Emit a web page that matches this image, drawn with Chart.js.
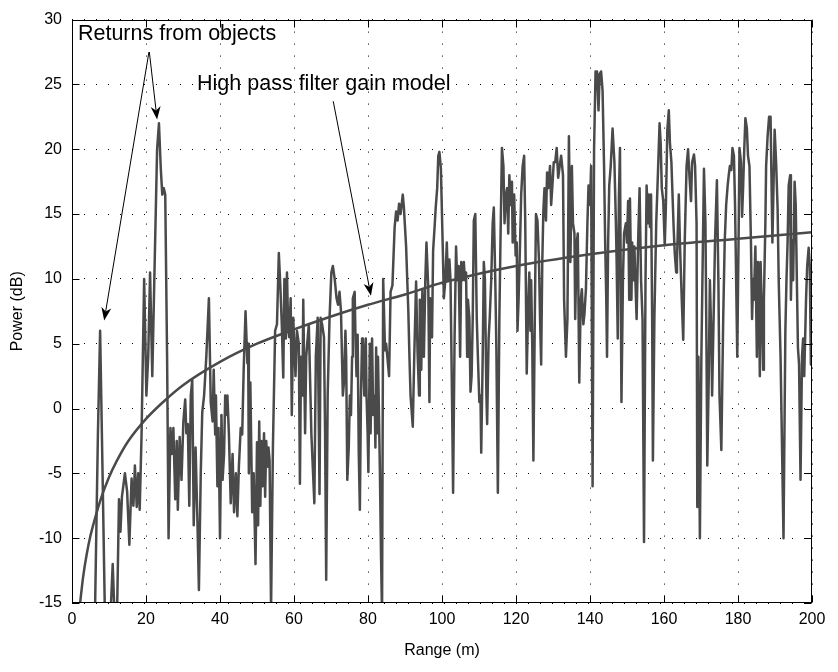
<!DOCTYPE html>
<html lang="en">
<head>
    <meta charset="UTF-8">
    <title>Power vs Range with High Pass Filter Gain Model</title>
    <script src="https://cdn.jsdelivr.net/npm/chart.js"></script>
    <style>
        html, body { margin: 0; padding: 0; background: #fff; }
    </style>
</head>
<body>
    <canvas id="powerChart" width="838" height="672"></canvas>

    <script>
        const rangeM = [
            0.5, 2.0, 3.5, 5.0, 6.2, 7.0, 7.6, 8.2, 8.9, 9.6,
            10.4, 11.0, 11.5, 12.2, 12.7, 13.1, 13.5, 14.3, 14.9, 15.5,
            16.1, 16.6, 17.0, 17.5, 17.9, 18.3, 18.8, 19.5, 20.1, 20.6,
            21.1, 21.7, 22.4, 23.0, 23.5, 24.0, 24.4, 24.8, 25.2, 25.7,
            26.1, 26.6, 27.0, 27.4, 27.9, 28.3, 28.6, 29.1, 29.6, 30.1,
            30.6, 30.9, 31.3, 31.7, 32.1, 32.5, 32.9, 33.4, 33.9, 34.3,
            34.8, 35.2, 35.7, 36.3, 37.0, 37.5, 38.0, 38.3, 38.7, 38.9,
            39.3, 39.6, 40.0, 40.4, 40.7, 41.1, 41.4, 41.7, 42.0, 42.4,
            42.9, 43.4, 43.8, 44.3, 44.7, 45.1, 45.6, 46.0, 46.4, 46.9,
            47.4, 47.6, 47.8, 48.2, 48.7, 49.1, 49.6, 50.0, 50.3, 50.6,
            50.9, 51.2, 51.5, 51.9, 52.2, 52.5, 52.8, 53.1, 53.4, 53.8,
            54.3, 54.9, 55.4, 55.9, 56.3, 56.7, 57.1, 57.4, 57.8, 58.1,
            58.4, 58.7, 59.1, 59.4, 59.8, 60.4, 60.8, 61.3, 61.6, 61.9,
            62.3, 62.5, 63.0, 63.3, 64.0, 64.7, 65.5, 65.9, 66.4, 66.9,
            67.2, 67.6, 68.1, 68.4, 68.7, 69.1, 69.6, 70.1, 70.5, 71.0,
            71.5, 71.9, 72.3, 72.7, 73.2, 73.5, 73.9, 74.1, 74.4, 74.8,
            75.1, 75.4, 75.7, 75.9, 76.4, 76.6, 76.9, 77.2, 77.5, 77.8,
            78.1, 78.4, 78.6, 79.0, 79.1, 79.4, 79.6, 79.9, 80.1, 80.5,
            80.7, 81.1, 81.4, 81.8, 82.0, 82.2, 82.5, 82.7, 83.2, 83.5,
            83.8, 84.1, 84.6, 84.9, 85.7, 86.1, 86.6, 87.2, 87.6, 88.0,
            88.4, 88.8, 89.4, 89.7, 90.3, 90.9, 91.2, 91.5, 92.1, 92.5,
            93.0, 93.4, 93.8, 94.0, 94.4, 94.7, 95.1, 95.5, 95.8, 96.3,
            96.6, 96.8, 97.3, 97.6, 98.0, 98.3, 98.7, 99.0, 99.3, 99.7,
            100.2, 100.5, 100.9, 101.3, 101.6, 102.0, 102.3, 102.7, 103.0, 103.4,
            103.8, 104.1, 104.5, 104.9, 105.2, 105.6, 105.9, 106.2, 106.5, 106.8,
            107.0, 107.4, 107.7, 108.0, 108.3, 108.6, 109.0, 109.4, 109.7, 110.1,
            110.4, 110.6, 111.0, 111.3, 111.6, 112.0, 112.2, 112.6, 112.9, 113.3,
            113.7, 114.0, 114.4, 114.7, 115.1, 115.5, 115.8, 116.2, 116.6, 116.9,
            117.3, 117.6, 117.9, 118.2, 118.6, 118.9, 119.1, 119.5, 119.9, 120.2,
            120.4, 120.7, 121.1, 121.4, 121.8, 122.2, 122.5, 122.9, 123.3, 123.6,
            123.9, 124.1, 124.4, 124.7, 125.1, 125.4, 125.8, 126.2, 126.5, 126.8,
            127.1, 127.4, 127.7, 128.1, 128.4, 128.7, 129.2, 129.5, 129.9, 130.2,
            130.6, 131.0, 131.4, 131.8, 132.2, 132.7, 133.0, 133.5, 133.9, 134.3,
            134.7, 135.1, 135.4, 135.8, 136.0, 136.4, 136.7, 137.1, 137.5, 137.8,
            138.2, 138.5, 138.9, 139.3, 139.6, 140.0, 140.3, 140.7, 141.1, 141.5,
            141.9, 142.3, 142.6, 143.0, 143.4, 143.8, 144.1, 144.4, 144.6, 144.9,
            145.2, 145.6, 146.1, 146.6, 147.0, 147.2, 147.5, 147.8, 148.1, 148.5,
            148.9, 149.2, 149.7, 150.0, 150.3, 150.6, 150.8, 151.2, 151.4, 151.7,
            152.0, 152.2, 152.6, 153.0, 153.4, 153.8, 154.2, 154.6, 155.0, 155.3,
            155.7, 155.9, 156.2, 156.5, 156.8, 157.0, 157.4, 157.9, 158.4, 158.8,
            159.1, 159.4, 159.8, 160.2, 160.5, 160.9, 161.3, 161.6, 162.0, 162.6,
            162.9, 163.3, 163.5, 164.0, 164.3, 164.8, 165.2, 165.6, 166.1, 166.5,
            166.9, 167.3, 167.6, 168.1, 168.4, 168.8, 169.0, 169.3, 169.7, 170.1,
            170.8, 171.2, 171.5, 171.7, 172.1, 172.4, 172.8, 173.0, 173.4, 173.8,
            174.3, 174.7, 175.0, 175.5, 176.0, 176.4, 176.8, 177.2, 177.5, 177.8,
            178.2, 178.5, 178.9, 179.2, 179.5, 179.8, 180.2, 180.4, 180.8, 181.1,
            181.4, 181.7, 182.0, 182.4, 182.7, 183.1, 183.5, 183.8, 184.1, 184.3,
            184.5, 184.7, 185.1, 185.4, 185.6, 185.9, 186.1, 186.5, 186.8, 187.0,
            187.4, 187.6, 188.0, 188.4, 188.8, 189.3, 189.9, 190.3, 190.7, 191.0,
            191.5, 192.3, 192.8, 193.1, 193.4, 193.7, 194.1, 194.3, 194.6, 194.9,
            195.3, 195.6, 195.9, 196.2, 196.5, 196.9, 197.3, 197.6, 197.9, 198.4,
            198.7, 199.1, 199.4, 199.7, 200.0
        ];
        const powerDb = [
            -18, -17, -19, -17, -16, -2, 6, -4, -16, -18,
            -16, -12, -16, -15.5, -7, -9.5, -6.8, -5, -6.4, -10.5,
            -5.4, -7.5, -4.4, -7.6, -5, -7.8, -2, 10, 1, 4,
            10.5, 2.5, 12, 20, 22, 18.5, 16.5, 17, 16.5, 4,
            -10, -1.5, -3.5, -1.5, -7, -2.5, -7.8, -2.2, -5.5, -1,
            0.7, -1.9, -1.2, -7.5, 1, 2.2, -9, -3, -8.7, -14,
            -5, -0.3, 1, 4, 8.5, 0.5, -1, 3, -2, 1,
            -6, -1.5, -10, -0.5, -5.5, -3.5, 1, -0.5, 1, -1.9,
            -7.3, -3.5, -8, -5, -8.3, -4.5, -1.5, -2, 3, 7.5,
            3.5, 5, -5, 2, -8, -5, -12, -2.6, -9, -1,
            -7.5, -2.5, -6, -1.9, -6.8, -2.5, -4.5, -3, -4, -15.5,
            -3, 6, 6.5, 12, 9.5, 6.5, 2.4, 10, 5.4, 10.5,
            6.5, 5.5, 8.5, -0.5, 7, 2.5, 6, 5, -5.8, 4,
            1, 8.4, -1.9, 4, 6.5, -2, -7.3, 4, 7, -6.6,
            7, 6.5, 5.5, -1.9, -13.2, 1, 6.9, 10.5, 11, 10,
            8.5, 8, 9, 7.5, 1, 2, 6, 4, -5.5, -3,
            1, -0.5, 4, 8.5, 9, 5.7, 2.5, 5.7, -3.4, -7.8,
            1, 5.4, 5, 1, 4, 5.4, 1, -1.9, -4.9, 5,
            -1.9, 5.4, -0.5, 1, -3, 4.7, -1.9, 4, -4.5, -11,
            -16, 10, 4.5, 5, 2.5, 9, 9.5, 14, 15.2, 14.5,
            15.8, 15, 16.5, 15.5, 12.5, 7.5, 4, 1, -1.4, 4,
            9.8, 4.3, 1, 8.4, 3, 9.2, 4, 10, 12.8, 9.2,
            0.5, 8.5, 5.5, 12.2, 14, 15.5, 17, 19.5, 19.8, 18.5,
            12.5, 8.5, 9.9, 12.8, 9.9, 11.5, 9.9, 1, -6.5, 5.5,
            12.5, 9.9, 11, 4, 11.3, 9.9, 11.3, 9.9, 10.5, 4,
            8.4, 7, 1.3, 2.5, 6.9, 14.5, 15, 6.9, 4, 0.5,
            1, -3.4, 4, 11.3, 9.9, 1, -1.2, 5.4, 7, 9.9,
            14.3, 15.5, 9.9, 4.5, -6.5, 6.9, 12.8, 20.1, 18.7, 14.3,
            16.5, 17, 13.5, 18, 15.7, 17.5, 12.8, 16.5, 11.8, 12.8,
            6, 8.4, 12.8, 16.5, 18.7, 19.5, 14.3, 2.7, 8, 10.5,
            6, 9.9, 4.7, -4, 7.5, 15, 14.5, 11.5, 6.9, 3.4,
            11.3, 15.3, 17, 14.5, 18.2, 17, 18.7, 15.7, 17.5, 19,
            19, 20.1, 17.8, 18.7, 19.5, 18, 8.4, 4, 6.9, 21,
            11.3, 18.7, 14.3, 13.5, 6.9, 12.8, 13.5, 2, 8.4, 9.2,
            6.5, 7.3, 9.2, 14.3, 17.2, 15.7, 18.7, -6, 20, 26,
            26, 23, 25.8, 26, 24.5, 18.7, 12.8, 8.4, 4, 12.8,
            17.2, 18.7, 21.6, 19, 14.3, 11.3, 5.4, 16.2, 20.1, 0.5,
            9.9, 13.5, 14.3, 12.8, 16, 8.4, 16.2, 8.4, 12.8, 9.9,
            12.5, 10.5, 6.9, 12.8, 17, 9.9, 6.9, -10.3, 9.9, 17.2,
            14.3, 16.5, 14, 16.5, 6.9, -4, 6.9, 14.3, 18.5, 22,
            20.5, 17, 16, 12.6, 15.5, 21.5, 23, 20.5, 19, 14,
            12, 10.5, 11.3, 16.5, 12.8, 8.4, 5.3, 12.8, 18.7, 20,
            17.8, 16, 19, 19.6, 18.7, 14.3, -7.6, 4, -10, 4,
            18.5, 14.3, 4, -4.4, 2.5, 9.9, 5.4, 1, 6.9, 13,
            17.6, 9.9, 1, -3.2, 6.9, 12.8, 15.7, 17.2, 18, 18.7,
            18.4, 20.1, 19.5, 15.7, 9.9, 4, 14.3, 20.1, 19, 14.8,
            17.2, 20.1, 22.4, 21.6, 19.5, 18.7, 12.8, 6.9, 10, 8.4,
            10.5, 12.5, 4, 11.3, 9.9, 2.5, 11.3, 6.9, 3, 8.4,
            14.3, 18.7, 21, 22.5, 22.5, 12.8, 21.5, 19, 15.5, 9.9,
            4, -10, 6, 9.9, 12.8, 17.2, 18, 8.4, 13, 9.9,
            17.5, 15.7, 10, 4.7, 3.4, -5.5, 4, 5.4, 2.5, 8.5,
            11, 12.4, 11, 3.4, 5
        ];

        // High pass filter gain model
        const modelRange = [2, 3, 4, 5, 6, 8, 10, 12, 15, 20, 25, 30, 40, 50, 60, 70, 80, 90, 100, 120, 140, 160, 180, 200];
        const modelGain = [-15.5, -13, -11.2, -9.8, -8.7, -6.8, -5.3, -4.1, -2.6, -0.8, 0.6, 1.8, 3.6, 5.0, 6.1, 7.1, 8.0, 8.8, 9.7, 11.0, 11.9, 12.6, 13.1, 13.6];

        // Text annotations and their arrows, in data units [x1, y1, x2, y2]
        const returnsLabel = { text: 'Returns from objects', x: 1.6, y: 28.9 };
        const returnsArrows = [[20.8, 27.5, 8.7, 6.8], [20.9, 27.5, 23.0, 22.3]];
        const filterLabel = { text: 'High pass filter gain model', x: 33.8, y: 25.0 };
        const filterArrows = [[70.6, 23.7, 80.8, 8.7]];

        const fontFamily = '"Liberation Sans", Arial, Helvetica, sans-serif';

        function drawArrow(ctx, x1, y1, x2, y2) {
            const ang = Math.atan2(y2 - y1, x2 - x1);
            const len = 13, half = 5;
            ctx.beginPath();
            ctx.moveTo(x1, y1);
            ctx.lineTo(x2 - Math.cos(ang) * len * 0.7, y2 - Math.sin(ang) * len * 0.7);
            ctx.stroke();
            ctx.save();
            ctx.translate(x2, y2);
            ctx.rotate(ang);
            ctx.beginPath();
            ctx.moveTo(0, 0);
            ctx.lineTo(-len, -half);
            ctx.lineTo(-len * 0.7, 0);
            ctx.lineTo(-len, half);
            ctx.closePath();
            ctx.fill();
            ctx.restore();
        }

        // Axes box with inward tick marks, like a Matlab figure
        const frame = {
            id: 'frame',
            afterDatasetsDraw(chart) {
                const { ctx, chartArea: a, scales: { x, y } } = chart;
                const left = Math.round(a.left) + 0.5, right = Math.round(a.right) - 0.5;
                const top = Math.round(a.top) + 0.5, bottom = Math.round(a.bottom) - 0.5;
                ctx.save();
                ctx.strokeStyle = '#000';
                ctx.lineWidth = 1;
                ctx.beginPath();
                x.ticks.forEach(t => {
                    const px = Math.round(x.getPixelForValue(t.value)) + 0.5;
                    ctx.moveTo(px, bottom); ctx.lineTo(px, bottom - 7);
                    ctx.moveTo(px, top); ctx.lineTo(px, top + 7);
                });
                y.ticks.forEach(t => {
                    const py = Math.round(y.getPixelForValue(t.value)) + 0.5;
                    ctx.moveTo(left, py); ctx.lineTo(left + 7, py);
                    ctx.moveTo(right, py); ctx.lineTo(right - 7, py);
                });
                ctx.stroke();
                ctx.strokeRect(left, top, right - left, bottom - top);
                ctx.restore();
            }
        };

        // Text labels with arrows pointing at the curves
        const notes = {
            id: 'notes',
            afterDraw(chart) {
                const { ctx, scales: { x, y } } = chart;
                ctx.save();
                ctx.fillStyle = '#000';
                ctx.strokeStyle = '#000';
                ctx.lineWidth = 1;
                ctx.font = '21.5px ' + fontFamily;
                ctx.textBaseline = 'middle';
                [returnsLabel, filterLabel].forEach(l => {
                    ctx.fillText(l.text, x.getPixelForValue(l.x), y.getPixelForValue(l.y));
                });
                returnsArrows.concat(filterArrows).forEach(([x1, y1, x2, y2]) => {
                    drawArrow(ctx, x.getPixelForValue(x1), y.getPixelForValue(y1),
                        x.getPixelForValue(x2), y.getPixelForValue(y2));
                });
                ctx.restore();
            }
        };

        const tickFont = { family: fontFamily, size: 16 };

        new Chart(document.getElementById('powerChart'), {
            type: 'line',
            data: {
                datasets: [
                    {
                        label: 'Power',
                        data: rangeM.map((r, i) => ({ x: r, y: powerDb[i] })),
                        borderColor: '#4a4a4a',
                        borderWidth: 2.5,
                        borderJoinStyle: 'round',
                        pointRadius: 0,
                        tension: 0,
                        fill: false
                    },
                    {
                        label: 'High pass filter gain model',
                        data: modelRange.map((r, i) => ({ x: r, y: modelGain[i] })),
                        borderColor: '#4a4a4a',
                        borderWidth: 2.5,
                        pointRadius: 0,
                        cubicInterpolationMode: 'monotone',
                        fill: false
                    }
                ]
            },
            options: {
                responsive: false,
                animation: false,
                devicePixelRatio: 1,
                layout: { padding: { top: 14, right: 26, left: 0, bottom: 0 } },
                plugins: {
                    legend: { display: false },
                    tooltip: { enabled: false }
                },
                scales: {
                    x: {
                        type: 'linear',
                        min: 0,
                        max: 200,
                        afterFit(scale) { scale.height = 69; },
                        ticks: { stepSize: 20, padding: 7, color: '#000', font: tickFont, maxRotation: 0 },
                        grid: { color: '#000', lineWidth: 1, drawTicks: false },
                        border: { display: false, dash: [1, 11] },
                        title: {
                            display: true,
                            text: 'Range (m)',
                            color: '#000',
                            font: tickFont,
                            padding: { top: 0, bottom: 12 }
                        }
                    },
                    y: {
                        type: 'linear',
                        min: -15,
                        max: 30,
                        afterFit(scale) { scale.width = 72; },
                        ticks: { stepSize: 5, padding: 10, color: '#000', font: tickFont },
                        grid: { color: '#000', lineWidth: 1, drawTicks: false },
                        border: { display: false, dash: [1, 11] },
                        title: {
                            display: true,
                            text: 'Power (dB)',
                            color: '#000',
                            font: tickFont,
                            padding: { top: 8, bottom: 0 }
                        }
                    }
                }
            },
            plugins: [frame, notes]
        });
    </script>
</body>
</html>
